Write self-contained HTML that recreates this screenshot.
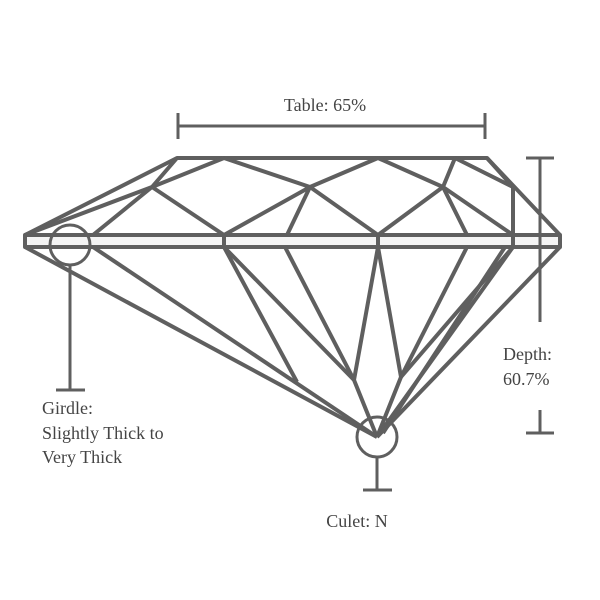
<!DOCTYPE html>
<html><head><meta charset="utf-8"><style>
html,body{margin:0;padding:0;background:#fff;}
svg{display:block;}
text{font-family:"Liberation Serif",serif;font-size:18px;fill:#444;}
</style></head><body>
<svg width="600" height="600" viewBox="0 0 600 600">
<g stroke="#5f5f5f" stroke-width="4" fill="none" stroke-linejoin="round" stroke-linecap="butt">
  <rect x="25" y="235" width="535" height="12" fill="#f4f4f4" stroke="#5f5f5f"/>
  <line x1="224" y1="235" x2="224" y2="247"/>
  <line x1="378" y1="235" x2="378" y2="247"/>
  <line x1="513" y1="235" x2="513" y2="247"/>
  <polyline points="25,235 177,158 487,158 560,235"/>
  <polyline points="25,235 152,187 224,158"/>
  <polyline points="177,158 152,187 93,235"/>
  <polyline points="152,187 224,235 310,187 224,158"/>
  <polyline points="310,187 378,158 443,187 378,235 310,187"/>
  <line x1="310" y1="187" x2="287" y2="235"/>
  <polyline points="455,158 443,187 513,235"/>
  <line x1="443" y1="187" x2="467" y2="235"/>
  <polyline points="487,158 513,187 513,235"/>
  <line x1="455" y1="158" x2="513" y2="187"/>
  <g>
  <line x1="25" y1="247" x2="377" y2="437"/>
  <line x1="93" y1="247" x2="377" y2="437"/>
  <line x1="224" y1="247" x2="297" y2="382"/>
  <polyline points="224,247 354,380 377,437"/>
  <line x1="285" y1="247" x2="354" y2="380"/>
  <polyline points="354,380 378,247 401,377 377,437"/>
  <line x1="467" y1="247" x2="401" y2="377"/>
  <line x1="513" y1="247" x2="401" y2="377"/>
  <line x1="513" y1="247" x2="377" y2="437"/>
  <line x1="505" y1="247" x2="383" y2="433"/>
  <line x1="560" y1="247" x2="377" y2="437"/>
  </g>
</g>
<g stroke="#5f5f5f" stroke-width="3" fill="none">
  <g>
    <line x1="178" y1="126" x2="485" y2="126"/>
    <line x1="178" y1="113" x2="178" y2="139"/>
    <line x1="485" y1="113" x2="485" y2="139"/>
  </g>
  <g>
    <line x1="540" y1="158" x2="540" y2="322"/>
    <line x1="526" y1="158" x2="554" y2="158"/>
    <line x1="540" y1="410" x2="540" y2="433"/>
    <line x1="526" y1="433" x2="554" y2="433"/>
  </g>
  <g>
    <circle cx="70" cy="245" r="20"/>
    <line x1="70" y1="265" x2="70" y2="390"/>
    <line x1="56" y1="390" x2="85" y2="390"/>
  </g>
  <g>
    <circle cx="377" cy="437" r="20"/>
    <line x1="377" y1="457" x2="377" y2="490"/>
    <line x1="363" y1="490" x2="392" y2="490"/>
  </g>
</g>
<text x="325" y="111" text-anchor="middle">Table: 65%</text>
<text x="503" y="360">Depth:</text>
<text x="503" y="385">60.7%</text>
<text x="42" y="414">Girdle:</text>
<text x="42" y="439">Slightly Thick to</text>
<text x="42" y="463">Very Thick</text>
<text x="357" y="527" text-anchor="middle">Culet: N</text>
</svg>
</body></html>
